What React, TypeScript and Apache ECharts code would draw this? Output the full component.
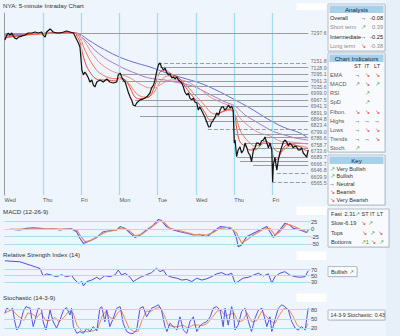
import React, { useEffect, useRef } from "react";
import * as echarts from "echarts";

const FONT = "'Liberation Sans', Arial, Helvetica, sans-serif";

// x values are trading days since the first (Wednesday) open
const dayLabels = ["Wed", "Thu", "Fri", "Mon", "Tue", "Wed", "Thu", "Fri"];
const dayBreaks = [1, 2, 3, 4, 5, 6, 7];

const price: [number, number][] = [
  [0.01, 7265], [0.06, 7289], [0.1, 7299], [0.14, 7289], [0.19, 7299], [0.23, 7284], [0.27, 7274], [0.32, 7270],
  [0.36, 7279], [0.45, 7284], [0.54, 7289], [0.62, 7299], [0.71, 7299], [0.8, 7304], [0.88, 7299], [0.97, 7304],
  [1.01, 7289], [1.06, 7279], [1.1, 7304], [1.19, 7319], [1.27, 7304], [1.36, 7299], [1.45, 7299], [1.54, 7304],
  [1.62, 7309], [1.71, 7304], [1.8, 7299], [1.89, 7265], [1.93, 7250], [1.97, 7230], [2.0, 7166], [2.02, 7117],
  [2.06, 7093], [2.1, 7107], [2.15, 7093], [2.19, 7078], [2.23, 7058], [2.28, 7068], [2.32, 7043], [2.36, 7034],
  [2.41, 7058], [2.49, 7068], [2.58, 7058], [2.67, 7073], [2.75, 7058], [2.84, 7053], [2.93, 7058], [2.97, 7093],
  [3.02, 7102], [3.06, 7083], [3.1, 7068], [3.15, 7058], [3.19, 7034], [3.23, 7009], [3.28, 6984], [3.32, 6970],
  [3.36, 6945], [3.41, 6940], [3.45, 6955], [3.54, 6970], [3.62, 6975], [3.71, 6984], [3.8, 7004], [3.84, 7029],
  [3.89, 7043], [3.93, 7068], [3.97, 7107], [4.02, 7142], [4.06, 7152], [4.1, 7132], [4.15, 7117], [4.19, 7127],
  [4.23, 7107], [4.28, 7093], [4.32, 7097], [4.37, 7078], [4.41, 7083], [4.45, 7073], [4.5, 7083], [4.54, 7068],
  [4.63, 7053], [4.67, 7034], [4.71, 7009], [4.76, 6994], [4.8, 7004], [4.84, 6979], [4.89, 6970], [4.93, 6979],
  [4.97, 6960], [5.02, 6955], [5.06, 6920], [5.1, 6935], [5.18, 6906], [5.23, 6886], [5.28, 6863], [5.33, 6837],
  [5.37, 6838], [5.4, 6857], [5.44, 6866], [5.5, 6886], [5.54, 6906], [5.59, 6896], [5.63, 6920], [5.67, 6935],
  [5.71, 6937], [5.75, 6920], [5.8, 6930], [5.85, 6945], [5.89, 6930], [5.93, 6940], [5.97, 6920], [6.0, 6758],
  [6.02, 6773], [6.06, 6691], [6.1, 6724], [6.15, 6739], [6.19, 6709], [6.24, 6724], [6.28, 6758], [6.32, 6739],
  [6.37, 6709], [6.41, 6699], [6.45, 6666], [6.5, 6724], [6.54, 6734], [6.58, 6758], [6.63, 6758], [6.67, 6748],
  [6.71, 6768], [6.76, 6773], [6.8, 6788], [6.85, 6758], [6.89, 6734], [6.93, 6758], [6.98, 6724], [7.0, 6566],
  [7.02, 6650], [7.06, 6689], [7.11, 6625], [7.15, 6675], [7.19, 6709], [7.24, 6739], [7.28, 6763], [7.32, 6773],
  [7.37, 6763], [7.41, 6743], [7.45, 6758], [7.5, 6748], [7.54, 6734], [7.58, 6743], [7.63, 6739], [7.67, 6724],
  [7.72, 6724], [7.76, 6734], [7.8, 6709], [7.85, 6699], [7.89, 6689], [7.93, 6724],
];

const emaFast: [number, number][] = [
  [0.01, 7275], [0.3, 7285], [0.8, 7295], [1.3, 7300], [1.84, 7300], [1.89, 7284], [1.97, 7255], [2.05, 7191],
  [2.13, 7142], [2.23, 7107], [2.36, 7078], [2.49, 7068], [2.7, 7068], [2.89, 7063], [3.02, 7078], [3.15, 7068],
  [3.28, 7029], [3.41, 6984], [3.54, 6975], [3.67, 6979], [3.8, 6989], [3.93, 7043], [4.06, 7107], [4.19, 7117],
  [4.32, 7102], [4.45, 7088], [4.58, 7073], [4.71, 7038], [4.84, 7004], [4.97, 6975], [5.1, 6945], [5.24, 6906],
  [5.37, 6871], [5.5, 6881], [5.63, 6906], [5.76, 6920], [5.89, 6925], [5.99, 6911], [6.07, 6822], [6.15, 6763],
  [6.28, 6743], [6.41, 6724], [6.54, 6724], [6.67, 6743], [6.8, 6768], [6.93, 6753], [7.01, 6699], [7.09, 6675],
  [7.19, 6699], [7.32, 6743], [7.45, 6753], [7.59, 6748], [7.72, 6739], [7.85, 6724], [7.92, 6719],
];
const emaSecond: [number, number][] = [
  [0.01, 7275], [0.5, 7288], [1.0, 7295], [1.5, 7300], [1.84, 7299], [1.97, 7274], [2.1, 7215], [2.23, 7166],
  [2.36, 7127], [2.49, 7102], [2.75, 7078], [3.02, 7073], [3.15, 7068], [3.28, 7043], [3.41, 7009], [3.54, 6989],
  [3.67, 6984], [3.8, 6989], [3.93, 7014], [4.06, 7058], [4.19, 7083], [4.32, 7088], [4.45, 7083], [4.58, 7073],
  [4.71, 7048], [4.84, 7024], [4.97, 6994], [5.1, 6970], [5.24, 6940], [5.37, 6911], [5.5, 6901], [5.63, 6906],
  [5.76, 6916], [5.89, 6920], [6.02, 6896], [6.15, 6822], [6.28, 6783], [6.41, 6758], [6.54, 6743], [6.67, 6748],
  [6.8, 6758], [6.93, 6758], [7.06, 6724], [7.19, 6714], [7.32, 6729], [7.45, 6743], [7.72, 6743], [7.92, 6734],
];
const emaThird: [number, number][] = [
  [0.01, 7280], [0.8, 7292], [1.5, 7298], [1.84, 7299], [1.97, 7284], [2.1, 7255], [2.23, 7215], [2.36, 7181],
  [2.49, 7152], [2.75, 7117], [3.02, 7097], [3.28, 7078], [3.54, 7048], [3.8, 7029], [3.93, 7029], [4.06, 7043],
  [4.19, 7058], [4.32, 7068], [4.58, 7068], [4.84, 7053], [5.1, 7024], [5.37, 6984], [5.63, 6960], [5.89, 6940],
  [6.02, 6925], [6.15, 6881], [6.41, 6837], [6.67, 6807], [6.93, 6793], [7.19, 6768], [7.45, 6763], [7.72, 6758],
  [7.92, 6753],
];
const emaFourth: [number, number][] = [
  [0.01, 7285], [1.0, 7296], [1.84, 7299], [2.1, 7265], [2.36, 7215], [2.62, 7176], [2.89, 7147], [3.15, 7122],
  [3.41, 7102], [3.67, 7083], [3.93, 7073], [4.19, 7068], [4.45, 7058], [4.71, 7048], [4.97, 7034], [5.24, 7009],
  [5.5, 6984], [5.76, 6960], [6.02, 6940], [6.28, 6896], [6.54, 6866], [6.8, 6837], [7.06, 6812], [7.32, 6797],
  [7.59, 6783], [7.92, 6773],
];
const emaSlow: [number, number][] = [
  [0.01, 7290], [1.0, 7297], [1.84, 7299], [2.23, 7260], [2.49, 7230], [2.94, 7186], [3.36, 7156], [3.8, 7132],
  [4.24, 7102], [4.66, 7078], [5.1, 7053], [5.52, 7019], [5.97, 6975], [6.41, 6930], [6.83, 6881], [7.27, 6837],
  [7.72, 6807], [7.92, 6783],
];
const emaColors = ["#ee4b35", "#f47a55", "#ec8f95", "#b172c6", "#6c6cd2"];

const levelValues = [7297.6, 7151.8, 7128.9, 7095.1, 7061.3, 7035.6, 6999.0, 6967.5, 6941.3, 6891.9, 6864.8,
  6823.4, 6799.0, 6786.6, 6758.7, 6733.6, 6689.7, 6666.7, 6646.8, 6609.9, 6565.5];
const levelStarts = [0, 4.01, 4.06, 3.02, 3.07, 4.66, 4.74, 3.41, 3.41, 3.54, 5.24,
  5.31, 6.02, 6.8, 6.28, 6.46, 6.07, 6.15, 6.49, 7.11, 6.98];
const levelDashed = [false, true, false, false, false, false, false, false, false, false, false,
  true, false, false, false, false, false, false, false, true, true];
const levelEnd = 7.93;

const macdLine: [number, number][] = [
  [0.14, -1], [0.4, -3], [0.58, 2], [0.75, 4], [0.93, 2], [1.1, -1], [1.27, 1], [1.45, -3], [1.62, 0], [1.75, 1],
  [1.88, -9], [1.97, -31], [2.06, -48], [2.19, -42], [2.41, -28], [2.58, -9], [2.75, -6], [2.93, -3], [3.02, 8],
  [3.15, 2], [3.28, -14], [3.41, -28], [3.54, -20], [3.71, -3], [3.89, 13], [4.02, 32], [4.1, 28], [4.23, 8],
  [4.41, -3], [4.58, -9], [4.76, -14], [4.93, -20], [5.1, -18], [5.28, -26], [5.45, -9], [5.63, 8], [5.8, 6],
  [5.97, -3], [6.06, -31], [6.1, -59], [6.19, -53], [6.32, -26], [6.5, -14], [6.67, -3], [6.85, 8], [6.93, -9],
  [7.02, -28], [7.11, -14], [7.19, -3], [7.32, 19], [7.45, 13], [7.54, 2], [7.72, -3], [7.89, -12], [7.93, -3],
];
const macdSignal: [number, number][] = [
  [0.14, -1], [0.93, 1], [1.62, 0], [1.88, -3], [1.97, -20], [2.1, -42], [2.24, -39], [2.49, -20], [2.67, -9],
  [2.93, -3], [3.06, 4], [3.23, -3], [3.41, -23], [3.58, -18], [3.8, 2], [4.06, 28], [4.19, 19], [4.32, 2],
  [4.58, -6], [4.93, -18], [5.28, -20], [5.45, -12], [5.63, 2], [5.89, 6], [6.06, -14], [6.19, -46], [6.32, -37],
  [6.5, -20], [6.76, -1], [6.93, 2], [7.06, -20], [7.19, -9], [7.37, 17], [7.54, 10], [7.72, -1], [7.89, -9],
  [7.93, -6],
];
const macdTicks = [25, 0, -25, -50];

const rsi: [number, number][] = [
  [0.01, 98], [0.4, 95], [0.67, 84], [0.84, 77], [0.93, 73], [1.01, 49], [1.1, 56], [1.23, 52], [1.36, 47],
  [1.49, 53], [1.62, 47], [1.75, 51], [1.84, 36], [1.93, 26], [2.02, 31], [2.06, 17], [2.15, 31], [2.28, 36],
  [2.41, 45], [2.49, 38], [2.62, 50], [2.75, 47], [2.89, 53], [2.97, 68], [3.06, 52], [3.15, 58], [3.28, 45],
  [3.36, 31], [3.45, 38], [3.58, 47], [3.71, 53], [3.84, 60], [3.97, 74], [4.06, 63], [4.15, 68], [4.23, 52],
  [4.37, 45], [4.5, 42], [4.63, 36], [4.76, 38], [4.89, 31], [5.02, 42], [5.15, 36], [5.28, 40], [5.41, 47],
  [5.54, 56], [5.67, 60], [5.8, 52], [5.93, 58], [6.02, 26], [6.1, 31], [6.23, 42], [6.37, 45], [6.5, 52],
  [6.63, 58], [6.76, 49], [6.89, 56], [6.98, 26], [7.06, 47], [7.19, 58], [7.32, 63], [7.45, 52], [7.58, 47],
  [7.72, 45], [7.85, 47], [7.93, 66],
];
const rsiTicks = [70, 50, 30];

const stochK: [number, number][] = [
  [0.01, 68], [0.06, 85], [0.14, 79], [0.21, 85], [0.27, 41], [0.32, 14], [0.4, 30], [0.49, 74], [0.56, 90],
  [0.67, 85], [0.71, 52], [0.75, 25], [0.82, 57], [0.88, 85], [0.97, 79], [1.01, 41], [1.08, 14], [1.14, 47],
  [1.19, 79], [1.27, 41], [1.36, 20], [1.45, 47], [1.54, 79], [1.62, 87], [1.71, 63], [1.75, 85], [1.8, 25],
  [1.89, 3], [1.97, 9], [2.06, 3], [2.15, 20], [2.23, 9], [2.32, 25], [2.41, 11], [2.49, 85], [2.54, 90],
  [2.62, 41], [2.67, 79], [2.75, 25], [2.84, 52], [2.93, 85], [3.02, 90], [3.1, 36], [3.19, 9], [3.28, 3],
  [3.36, 3], [3.45, 14], [3.54, 85], [3.62, 90], [3.71, 57], [3.84, 85], [3.93, 90], [4.02, 96], [4.1, 79],
  [4.19, 25], [4.24, 9], [4.32, 36], [4.41, 25], [4.5, 14], [4.58, 57], [4.67, 14], [4.76, 3], [4.84, 41],
  [4.93, 57], [5.02, 9], [5.1, 27], [5.19, 36], [5.28, 41], [5.37, 57], [5.45, 85], [5.54, 90], [5.63, 79],
  [5.71, 25], [5.76, 85], [5.84, 30], [5.93, 90], [5.97, 74], [6.02, 14], [6.1, 30], [6.19, 74], [6.28, 85],
  [6.37, 41], [6.45, 9], [6.54, 52], [6.63, 79], [6.72, 85], [6.76, 68], [6.85, 25], [6.93, 57], [6.98, 9],
  [7.06, 47], [7.15, 85], [7.24, 96], [7.32, 90], [7.41, 79], [7.5, 41], [7.59, 20], [7.67, 14], [7.76, 25],
  [7.85, 14], [7.93, 85],
];
const stochD: [number, number][] = [
  [0.01, 70], [0.2, 80], [0.35, 60], [0.51, 45], [0.61, 70], [0.74, 65], [0.85, 55], [0.95, 70], [1.08, 45],
  [1.19, 45], [1.32, 55], [1.42, 40], [1.55, 55], [1.68, 75], [1.79, 70], [1.89, 30], [2.02, 10], [2.18, 8],
  [2.34, 12], [2.44, 20], [2.55, 60], [2.65, 75], [2.75, 55], [2.86, 50], [2.96, 70], [3.04, 80], [3.15, 50],
  [3.25, 20], [3.38, 8], [3.49, 10], [3.59, 45], [3.7, 75], [3.82, 75], [3.96, 85], [4.06, 88], [4.16, 65],
  [4.27, 30], [4.4, 25], [4.53, 25], [4.66, 30], [4.79, 20], [4.92, 30], [5.05, 30], [5.16, 28], [5.29, 35],
  [5.42, 55], [5.55, 75], [5.65, 80], [5.76, 60], [5.89, 65], [5.99, 70], [6.1, 40], [6.23, 45], [6.33, 70],
  [6.46, 40], [6.59, 45], [6.72, 75], [6.83, 60], [6.93, 45], [7.06, 35], [7.19, 65], [7.3, 85], [7.43, 80],
  [7.53, 60], [7.64, 30], [7.77, 18], [7.87, 20], [7.92, 35],
];
const stochTicks = [80, 50, 20];

// side panels
const analysisRows: [string, string, string][] = [
  ["Overall", "n", "-0.08"], ["Short term", "u", "0.39"], ["Intermediate", "n", "-0.25"], ["Long term", "d", "-0.38"],
];
const indicatorRows: [string, string, string, string][] = [
  ["EMA", "n", "d", "d"], ["MACD", "u", "d", "u"], ["RSI", "", "u", ""], ["SpD", "", "u", ""],
  ["Fibon.", "d", "d", "d"], ["Highs", "n", "n", "n"], ["Lows", "n", "d", "d"], ["Trends", "n", "n", "d"],
  ["Stoch.", "u", "", ""],
];
const keyRows: [string, string][] = [
  ["Very Bullish", "u"], ["Bullish", "u"], ["Neutral", "n"], ["Bearish", "d"], ["Very Bearish", "d"],
];
const macdFast = "2.31";
const macdSlow = "-6.19";
const rsiSignal = "Bullish";
const stochValue = "14-3-9 Stochastic: 0.43";

const ARROWS: Record<string, [string, string]> = {
  u: ["↗", "#2f9e2f"],
  d: ["↘", "#d42a2a"],
  n: ["→", "#111111"],
};

function txt(x: number, y: number, s: string, fill = "#222", size = 5.6, align = "left") {
  return {
    type: "text", x, y, silent: true, z: 10,
    style: { text: s, fill, fontSize: size, fontFamily: FONT, align, verticalAlign: "middle" },
  };
}
function arrow(x: number, y: number, k: string) {
  if (!k) return null;
  const [g, c] = ARROWS[k];
  return txt(x, y, g, c, 6, "center");
}
function panel(x: number, y: number, w: number, h: number, title?: string) {
  const els: any[] = [
    { type: "rect", z: 9, shape: { x: x + 1, y: y + 1, width: w, height: h }, style: { fill: "#d5dce3" } },
    { type: "rect", z: 9, shape: { x, y, width: w, height: h }, style: { fill: "#f8fafd", stroke: "#b4bec8", lineWidth: 1 } },
  ];
  if (title) {
    els.push({ type: "rect", z: 9, shape: { x: x + 1.5, y: y + 1.5, width: w - 3, height: 7.5 }, style: { fill: "#a7d0ea" } });
    els.push(txt(x + w / 2, y + 5.3, title, "#15253a", 6.2, "center"));
  }
  return els;
}

function buildGraphics() {
  const g: any[] = [];
  g.push({ type: "rect", shape: { x: 386, y: 0, width: 14, height: 336 }, style: { fill: "#e7eff8" }, silent: true });
  [[296.5, 3.5, 30, 6.5], [296.5, 206.5, 30, 8.5], [296.5, 251.5, 30, 8.5], [296.5, 293.5, 30, 8.5]].forEach(
    ([x, y, w, h]) => g.push({ type: "rect", shape: { x, y, width: w, height: h }, style: { fill: "#ffffff" }, silent: true })
  );
  // Analysis
  g.push(...panel(328, 4, 57, 47, "Analysis"));
  analysisRows.forEach(([label, k, val], i) => {
    const y = 18.3 + i * 9.1;
    const c = i % 2 === 1 ? "#8a8a8a" : "#1a1a1a";
    g.push(txt(330, y, label, c));
    g.push(arrow(363.5, y, k));
    g.push(txt(383, y, val, c, 5.6, "right"));
  });
  // Chart indicators
  g.push(...panel(328, 53, 57, 99, "Chart Indicators"));
  const cols = [357.5, 367, 377];
  ["ST", "IT", "LT"].forEach((s, i) => g.push(txt(cols[i], 66, s, "#333", 5.6, "center")));
  indicatorRows.forEach(([label, a, b, c], i) => {
    const y = 75.3 + i * 9.05;
    g.push(txt(330, y, label, "#555"));
    [a, b, c].forEach((k, j) => g.push(arrow(cols[j], y, k)));
  });
  // Key
  g.push(...panel(328, 155, 57, 50, "Key"));
  keyRows.forEach(([label, k], i) => {
    const y = 168.5 + i * 7.8;
    g.push(arrow(332, y, k));
    g.push(txt(336.5, y, label, "#333"));
  });
  // MACD box
  g.push(...panel(328, 209, 61, 38));
  g.push(txt(331, 214.3, "Fast", "#333"), txt(344.5, 214.3, macdFast, "#333"), arrow(357, 214.3, "u"));
  g.push(txt(365, 214.3, "ST", "#333", 5.6, "center"), txt(372.5, 214.3, "IT", "#333", 5.6, "center"), txt(380, 214.3, "LT", "#333", 5.6, "center"));
  g.push(txt(331, 223.3, "Slow", "#333"), txt(343.5, 223.3, macdSlow, "#333"), arrow(363, 223.3, "d"), arrow(370, 223.3, "u"));
  g.push(txt(331, 232.7, "Tops", "#333"), arrow(364, 232.7, "d"), arrow(372, 232.7, "u"), arrow(380.5, 232.7, "d"));
  g.push(txt(331, 242, "Bottoms", "#333"), arrow(363, 242, "u"), txt(365.8, 242, "1", "#2f9e2f"), arrow(373, 242, "d"), arrow(381.5, 242, "u"));
  // RSI box
  g.push(...panel(328, 266.5, 29, 10));
  g.push(txt(331, 271.5, rsiSignal, "#333"), arrow(351.5, 271.5, "u"));
  // Stoch box
  g.push(...panel(328, 310, 57, 10));
  g.push(txt(330.5, 315, stochValue, "#333", 5.3));
  return g.filter(Boolean);
}

const GRID_LEFT = 4.5;
const GRID_W = 306.4;

function hLines(ticks: number[]) {
  return {
    silent: true, symbol: ["none", "none"], label: { show: false },
    lineStyle: { color: "#a9def3", type: "solid", width: 1 },
    data: ticks.map((v) => ({ yAxis: v })),
  };
}

// spread label centres (pixel y) so neighbours keep a minimum gap, staying close to their lines
function spread(ys: number[], gap: number) {
  const out = ys.slice();
  for (let it = 0; it < 200; it++) {
    let moved = false;
    for (let i = 1; i < out.length; i++) {
      const d = out[i] - out[i - 1];
      if (d < gap) {
        const push = (gap - d) / 2;
        out[i - 1] -= push;
        out[i] += push;
        moved = true;
      }
    }
    if (!moved) break;
  }
  return out;
}

export default function App() {
  const ref = useRef<HTMLDivElement>(null);
  useEffect(() => {
    if (!ref.current) return;
    const chart = echarts.init(ref.current, undefined, { renderer: "svg" });
    const xAxes = [0, 1, 2, 3].map((i) => ({
      type: "value", gridIndex: i, min: 0, max: 8, interval: 1,
      axisLine: { show: false }, axisTick: { show: false }, splitLine: { show: false },
      axisLabel: i === 0
        ? { show: true, formatter: (v: number) => dayLabels[v] ?? "", align: "left", fontSize: 5.6, color: "#555", margin: 2, fontFamily: FONT }
        : { show: false },
    }));
    const sideAxis = (gi: number, min: number, max: number, ticks: number[]) => ({
      type: "value", gridIndex: gi, min, max, position: "right",
      axisLine: { show: false }, axisTick: { show: false }, splitLine: { show: false },
      axisLabel: { customValues: ticks, fontSize: 5.6, color: "#444", margin: 0, fontFamily: FONT },
    });
    const emaSets = [emaSlow, emaFourth, emaThird, emaSecond, emaFast];
    const emaCols = [emaColors[4], emaColors[3], emaColors[2], emaColors[1], emaColors[0]];
    const option: any = {
      animation: false,
      backgroundColor: "#eef5fc",
      title: [
        { text: "NYA: 5-minute Intraday Chart", left: 3, top: 2 },
        { text: "MACD (12-26-9)", left: 3, top: 208 },
        { text: "Relative Strength Index (14)", left: 3, top: 251.5 },
        { text: "Stochastic (14-3-9)", left: 3, top: 294 },
      ].map((t) => ({ ...t, padding: 0, textStyle: { fontSize: 6.2, fontWeight: "normal", color: "#333", fontFamily: FONT } })),
      grid: [
        { left: GRID_LEFT, top: 13, width: GRID_W, height: 182 },
        { left: GRID_LEFT, top: 217, width: GRID_W, height: 31.5 },
        { left: GRID_LEFT, top: 260.2, width: GRID_W, height: 31 },
        { left: GRID_LEFT, top: 303.6, width: GRID_W, height: 30.7 },
      ],
      xAxis: xAxes,
      yAxis: [
        { type: "value", gridIndex: 0, min: 6502.5, max: 7397.4, axisLine: { show: true, lineStyle: { color: "#9a9a9a" } },
          axisTick: { show: false }, axisLabel: { show: false }, splitLine: { show: false } },
        sideAxis(1, -65, 40, macdTicks),
        sideAxis(2, 0, 100, rsiTicks),
        sideAxis(3, 0, 100, stochTicks),
      ],
      series: [
        ...emaSets.map((d, i) => ({
          type: "line", xAxisIndex: 0, yAxisIndex: 0, data: d, symbol: "none", smooth: 0.4, silent: true, z: 3,
          lineStyle: { color: emaCols[i], width: 1 },
          markLine: i === 0 ? {
            silent: true, symbol: ["none", "none"], label: { show: false },
            lineStyle: { color: "#a3dcf2", type: "solid", width: 1.3 },
            data: dayBreaks.map((d2) => ({ xAxis: d2 })),
          } : undefined,
        })),
        {
          type: "line", xAxisIndex: 0, yAxisIndex: 0, data: price, symbol: "none", silent: true, z: 5,
          lineStyle: { color: "#111", width: 1.2 },
          markLine: {
            silent: true, symbol: ["none", "none"], label: { show: false },
            data: levelValues.map((v, i) => [
              {
                coord: [levelStarts[i], v],
                lineStyle: { color: "#9c9c9c", width: 1, type: levelDashed[i] ? "dashed" : "solid" },
              },
              { coord: [levelEnd, v] },
            ]),
          },
        },
        {
          id: "levelLabels",
          type: "scatter", xAxisIndex: 0, yAxisIndex: 0, silent: true, z: 6,
          data: levelValues.map((v) => [levelEnd, v]),
          symbolSize: 1, itemStyle: { color: "rgba(0,0,0,0)" },
          label: {
            show: true, position: "right", distance: 2, fontSize: 5.2, color: "#444", fontFamily: FONT,
            formatter: (p: any) => Number(p.value[1]).toFixed(1),
          },
        },
        {
          type: "line", xAxisIndex: 1, yAxisIndex: 1, data: macdLine, symbol: "none", silent: true, z: 4,
          lineStyle: { color: "#5a5ae4", width: 1.1 }, markLine: hLines(macdTicks),
        },
        {
          type: "line", xAxisIndex: 1, yAxisIndex: 1, data: macdSignal, symbol: "none", silent: true, z: 4,
          lineStyle: { color: "#f3845a", width: 1.1 },
        },
        {
          type: "line", xAxisIndex: 2, yAxisIndex: 2, data: rsi, symbol: "none", silent: true, z: 4,
          lineStyle: { color: "#4f4fdc", width: 1 }, markLine: hLines(rsiTicks),
        },
        {
          type: "line", xAxisIndex: 3, yAxisIndex: 3, data: stochD, symbol: "none", silent: true, z: 4,
          lineStyle: { color: "#f4875c", width: 1 }, markLine: hLines(stochTicks),
        },
        {
          type: "line", xAxisIndex: 3, yAxisIndex: 3, data: stochK, symbol: "none", silent: true, z: 4,
          lineStyle: { color: "#5454e0", width: 1 },
        },
      ],
      graphic: buildGraphics(),
    };
    chart.setOption(option);
    // spread the crowded level labels a little, measured with the chart's own scale
    const ys = levelValues.map((v) => (chart.convertToPixel({ xAxisIndex: 0, yAxisIndex: 0 } as any, [levelEnd, v]) as number[])[1]);
    const adj = spread(ys, 6.4);
    const dys = adj.map((y, i) => y - ys[i]);
    chart.setOption({ series: [{ id: "levelLabels", labelLayout: (p: any) => ({ dy: dys[p.dataIndex] }) }] });
    return () => chart.dispose();
  }, []);
  return <div ref={ref} style={{ position: "fixed", left: 0, top: 0, width: 400, height: 336 }} />;
}
